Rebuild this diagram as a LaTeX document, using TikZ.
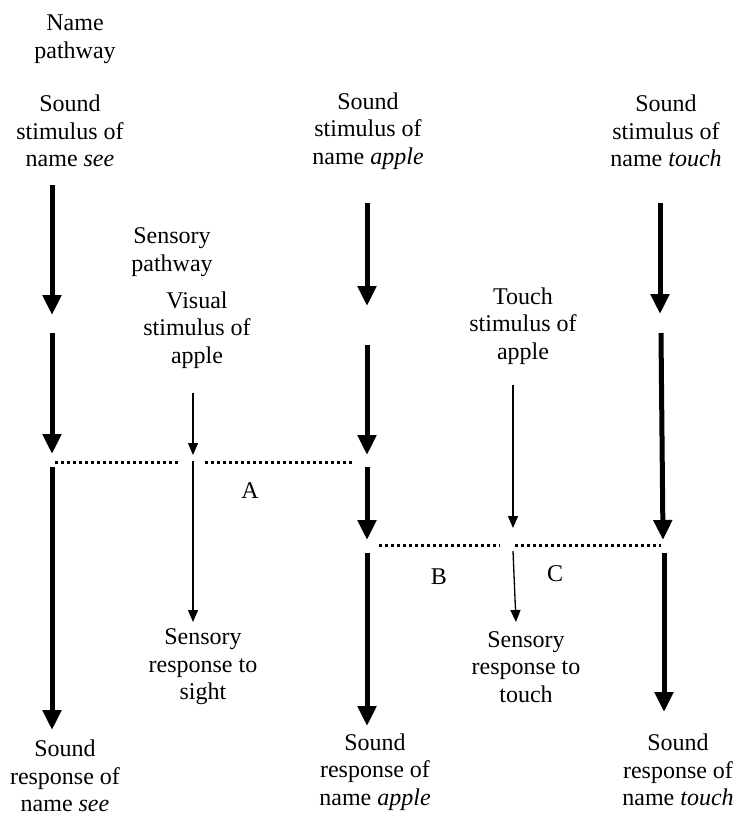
\documentclass[tikz,border=0pt]{standalone}
\usepackage{fontspec}
\setmainfont{Liberation Serif}
\usetikzlibrary{arrows.meta}
\def\mthick{5pt}
\def\mthin{1.3pt}
\tikzset{
	lbl/.style={align=center, inner sep=0pt, font=\fontsize{24}{27.5}\selectfont},
	soundarrow/.style={line width=\mthick, -{Triangle[width=18pt,length=20pt]}},
	sensearrow/.style={line width=\mthin, -{Triangle[width=10pt,length=12pt]}},
	link/.style={line width=3pt, dash pattern=on 3pt off 3pt},
}

\begin{document}
\begin{tikzpicture}[x=1pt, y=-1pt]
		\useasboundingbox (0,0) rectangle (739,817);
		% headings
		\node[lbl] (namehead) at (75,39) {Name\\pathway};
		\node[lbl] (sensehead) at (172,252) {Sensory\\pathway};
		% stimuli
		\node[lbl] (seestim) at (70,131) {Sound\\stimulus of\\name \textit{see}};
		\node[lbl] (applestim) at (368,131) {Sound\\stimulus of\\name \textit{apple}};
		\node[lbl] (touchstim) at (666,131) {Sound\\stimulus of\\name \textit{touch}};
		\node[lbl] (visstim) at (197,330) {Visual\\stimulus of\\apple};
		\node[lbl] (tactstim) at (523,326) {Touch\\stimulus of\\apple};
		% responses
		\node[lbl] (sightresp) at (203,667) {Sensory\\response to\\sight};
		\node[lbl] (touchresp) at (526,667) {Sensory\\response to\\touch};
		\node[lbl] (seeresp) at (65,776) {Sound\\response of\\name \textit{see}};
		\node[lbl] (appleresp) at (375,772) {Sound\\response of\\name \textit{apple}};
		\node[lbl] (touchresp2) at (678,770) {Sound\\response of\\name \textit{touch}};
		% links
		\node[lbl] (linkA) at (250,491) {A};
		\node[lbl] (linkB) at (439,577) {B};
		\node[lbl] (linkC) at (555,574) {C};

		% name pathway: see
		\coordinate (s1) at (52,185);
		\coordinate (s2) at (52,315);
		\coordinate (s3) at (52,333);
		\coordinate (s4) at (52,454);
		\coordinate (s5) at (52,467);
		\coordinate (s6) at (52,730);
		\draw[soundarrow] (s1) -- (s2);
		\draw[soundarrow] (s3) -- (s4);
		\draw[soundarrow] (s5) -- (s6);
		% name pathway: apple
		\coordinate (a1) at (367,203);
		\coordinate (a2) at (367,306);
		\coordinate (a3) at (367,345);
		\coordinate (a4) at (367,455);
		\coordinate (a5) at (367,467);
		\coordinate (a6) at (367,540);
		\coordinate (a7) at (367,553);
		\coordinate (a8) at (367,726);
		\draw[soundarrow] (a1) -- (a2);
		\draw[soundarrow] (a3) -- (a4);
		\draw[soundarrow] (a5) -- (a6);
		\draw[soundarrow] (a7) -- (a8);
		% name pathway: touch
		\coordinate (t1) at (660,203);
		\coordinate (t2) at (660,314);
		\coordinate (t3) at (661,333);
		\coordinate (t4) at (663,540);
		\coordinate (t5) at (664,553);
		\coordinate (t6) at (664,712);
		\draw[soundarrow] (t1) -- (t2);
		\draw[soundarrow] (t3) -- (t4);
		\draw[soundarrow] (t5) -- (t6);
		% sensory pathway: sight
		\coordinate (v1) at (193,393);
		\coordinate (v2) at (193,455);
		\coordinate (v3) at (193,461);
		\coordinate (v4) at (193,622);
		\draw[sensearrow] (v1) -- (v2);
		\draw[sensearrow] (v3) -- (v4);
		% sensory pathway: touch
		\coordinate (h1) at (513,385);
		\coordinate (h2) at (513,528);
		\coordinate (h3) at (513,551);
		\coordinate (h4) at (516,622);
		\draw[sensearrow] (h1) -- (h2);
		\draw[sensearrow] (h3) -- (h4);

		% dotted links between pathways
		\coordinate (d1) at (55,462);
		\coordinate (d2) at (179,462);
		\coordinate (d3) at (205,462);
		\coordinate (d4) at (352,462);
		\draw[link] (d1) -- (d2);
		\draw[link] (d3) -- (d4);
		\coordinate (e1) at (379,545);
		\coordinate (e2) at (500,545);
		\coordinate (e3) at (515,545);
		\coordinate (e4) at (661,545);
		\draw[link] (e1) -- (e2);
		\draw[link] (e3) -- (e4);
	\end{tikzpicture}
\end{document}
